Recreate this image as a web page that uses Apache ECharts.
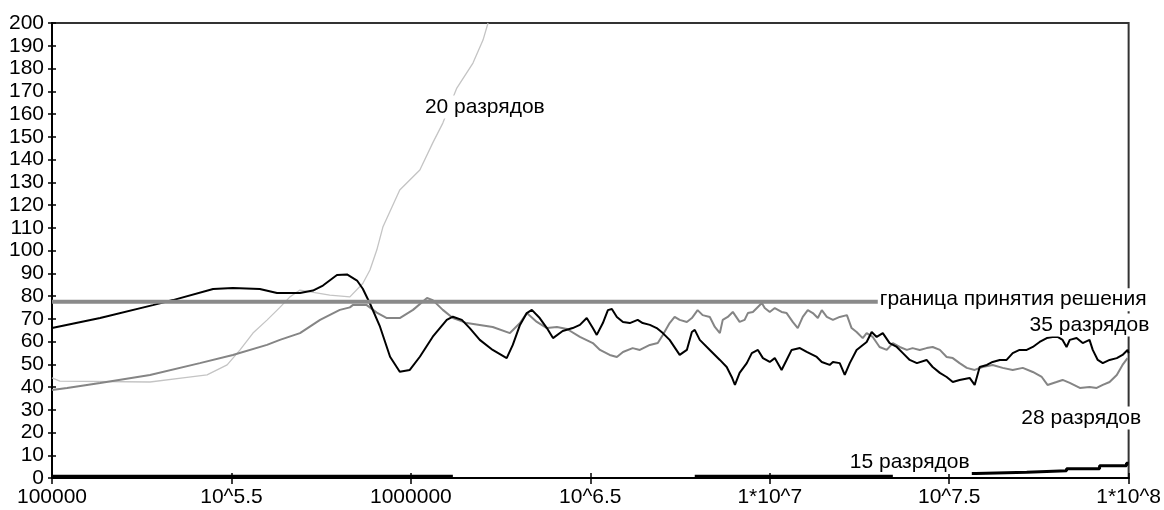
<!DOCTYPE html>
<html>
<head>
<meta charset="utf-8">
<script src="https://cdn.jsdelivr.net/npm/echarts@6/dist/echarts.min.js"></script>
<style>
html,body{margin:0;padding:0;background:#fff;}
#chart{width:1164px;height:510px;}
</style>
</head>
<body>
<div id="chart"></div>
<script>
// ---- data (x = log10 of N, y = value) ----
const xTickExps = [5, 5.5, 6, 6.5, 7, 7.5, 8];
const xTickLabels = ['100000', '10^5.5', '1000000', '10^6.5', '1*10^7', '10^7.5', '1*10^8'];

const seriesNames = ['20 разрядов', '35 разрядов', '28 разрядов', '15 разрядов', 'граница принятия решения'];

const thresholdValue = 77.5;
const thresholdRange = [5, 7.301];

const data20 = [[5.000,44],[5.022,42.6],[5.273,42.2],[5.365,44],[5.432,45.3],[5.488,49.7],[5.524,56.3],[5.560,63.7],[5.599,69.4],[5.635,75],[5.663,79.6],[5.691,82.6],[5.774,80.4],[5.830,79.6],[5.866,85.5],[5.886,91.4],[5.905,100.2],[5.922,110.3],[5.969,126.6],[6.025,135.4],[6.061,147.3],[6.089,156],[6.128,171.4],[6.173,182.4],[6.201,192.5],[6.215,200]];

const data35 = [[5.000,65.9],[5.134,70.3],[5.281,76],[5.337,78.2],[5.449,83.1],[5.504,83.5],[5.579,83.1],[5.627,81.3],[5.691,81.3],[5.727,82.4],[5.755,84.6],[5.794,89.2],[5.822,89.5],[5.850,86.8],[5.866,83.2],[5.886,76.7],[5.914,66.5],[5.942,53.3],[5.969,46.7],[5.997,47.5],[6.025,53.3],[6.061,62.1],[6.100,69.5],[6.117,70.9],[6.142,69.5],[6.164,65.9],[6.192,60.7],[6.228,56.3],[6.267,52.7],[6.284,58.5],[6.304,67.3],[6.323,72.5],[6.337,73.9],[6.359,70.3],[6.379,65.9],[6.396,61.5],[6.423,64.6],[6.451,65.9],[6.471,67.3],[6.490,70.3],[6.507,65.9],[6.518,62.9],[6.535,68.1],[6.549,73.8],[6.560,74.3],[6.574,70.8],[6.591,68.6],[6.610,68.1],[6.632,69.5],[6.646,68.1],[6.666,67.3],[6.685,65.9],[6.702,63.7],[6.721,60.7],[6.749,54.1],[6.769,56.3],[6.783,64.2],[6.791,65.1],[6.805,60.7],[6.833,56.3],[6.861,51.9],[6.880,48.8],[6.894,44.4],[6.903,40.9],[6.916,46.2],[6.936,50.5],[6.950,54.9],[6.967,56.3],[6.981,52.7],[7.000,51],[7.014,52.7],[7.033,47.5],[7.047,51.9],[7.061,56.3],[7.084,57.1],[7.103,55.4],[7.131,53.2],[7.145,51],[7.167,49.7],[7.176,51],[7.195,50.5],[7.209,45.3],[7.223,50.5],[7.242,56.3],[7.270,59.8],[7.284,64.2],[7.298,62],[7.315,63.7],[7.334,59.3],[7.354,57.6],[7.371,54.9],[7.390,51.9],[7.410,50.5],[7.437,51.9],[7.454,48.8],[7.474,46.2],[7.493,44.4],[7.510,42.2],[7.529,43.1],[7.557,44],[7.571,40.9],[7.585,48.8],[7.605,49.7],[7.621,51],[7.641,51.9],[7.660,51.9],[7.677,54.9],[7.696,56.3],[7.716,56.3],[7.733,57.6],[7.752,59.8],[7.772,61.5],[7.788,62],[7.802,62],[7.816,60.7],[7.827,57.6],[7.836,60.7],[7.855,61.5],[7.872,59.3],[7.891,60.7],[7.900,56.3],[7.914,51.9],[7.928,50.5],[7.947,51.9],[7.967,52.7],[7.983,54.1],[7.997,56.3],[8.000,54.9]];

const data28 = [[5.000,38.7],[5.042,39.6],[5.134,41.8],[5.273,45.3],[5.412,50.5],[5.504,54.1],[5.599,58.5],[5.635,60.7],[5.691,63.7],[5.747,69.5],[5.802,73.9],[5.830,75],[5.838,76],[5.877,76],[5.905,72.7],[5.933,70.3],[5.969,70.3],[6.006,73.9],[6.045,79.1],[6.061,78.2],[6.089,73.9],[6.117,70.3],[6.156,68.1],[6.192,67.3],[6.228,66.4],[6.276,63.7],[6.304,68.1],[6.323,72.5],[6.351,68.6],[6.379,65.9],[6.407,66.4],[6.435,65.5],[6.471,62],[6.507,59.3],[6.527,56.3],[6.554,54.1],[6.574,53.2],[6.591,55.4],[6.618,57.1],[6.638,56.3],[6.666,58.5],[6.688,59.3],[6.702,62.9],[6.721,68.1],[6.735,70.8],[6.749,69.5],[6.769,68.6],[6.783,70.3],[6.799,73.8],[6.813,71.6],[6.833,70.8],[6.847,66.4],[6.861,63.7],[6.869,69.5],[6.883,70.8],[6.897,73],[6.916,68.6],[6.930,69.5],[6.939,72.5],[6.953,73],[6.967,75.2],[6.978,76.9],[6.986,74.7],[7.000,73],[7.014,74.7],[7.033,73],[7.047,72.5],[7.064,68.6],[7.078,65.9],[7.092,70.8],[7.106,73.8],[7.120,72.5],[7.134,70.3],[7.145,73.8],[7.159,70.8],[7.176,69.5],[7.195,70.8],[7.215,71.6],[7.228,65.9],[7.242,64.2],[7.259,61.5],[7.270,63.7],[7.287,62],[7.306,57.6],[7.326,56.3],[7.343,59.3],[7.362,57.6],[7.382,56.3],[7.398,57.1],[7.418,56.3],[7.437,57.1],[7.454,57.6],[7.474,56.3],[7.493,53.2],[7.510,52.7],[7.529,50.5],[7.549,48.4],[7.571,47.5],[7.593,48.8],[7.621,49.7],[7.649,48.4],[7.677,47.5],[7.705,48.4],[7.733,46.6],[7.758,44.4],[7.774,40.9],[7.799,42.2],[7.816,43.1],[7.836,41.8],[7.864,39.6],[7.891,40],[7.911,39.6],[7.928,40.9],[7.947,42.2],[7.967,45.3],[7.983,49.7],[7.997,52.7]];

// '-' marks a gap (the curve lies on the axis there)
const data15 = [[5.000,0.8],[6.117,0.8],[6.118,'-'],[6.791,0.8],[7.343,0.8],[7.344,'-'],[7.563,2.0],[7.574,2.5],[7.716,3.2],[7.827,4.1],[7.919,5.4],[7.994,6.5],[8.000,6.5]];

// ---- chart ----
const FONT = "'Liberation Sans', Arial, sans-serif";
const FS = 21;

function note(coord, text, position) {
  return {
    coord: coord,
    label: {
      show: true,
      formatter: text,
      position: position || 'inside',
      distance: 1,
      color: '#000',
      fontFamily: FONT,
      fontSize: FS,
      backgroundColor: '#fff',
      padding: [1, 1, 1, 1]
    }
  };
}
function marker(items) {
  return { symbol: 'circle', symbolSize: 0, silent: true, animation: false, data: items };
}

const chart = echarts.init(document.getElementById('chart'), null, { renderer: 'canvas' });
chart.setOption({
  animation: false,
  backgroundColor: '#fff',
  grid: { left: 52, right: 34, top: 23, bottom: 32, show: true, borderColor: '#333', borderWidth: 2, backgroundColor: 'transparent' },
  xAxis: [{
    type: 'value', min: 5, max: 8, interval: 0.5, position: 'bottom',
    axisLine: { show: true, onZero: false, lineStyle: { color: '#000', width: 2 } },
    axisTick: { show: true, length: 6, lineStyle: { color: '#000', width: 1.5 } },
    splitLine: { show: false },
    axisLabel: {
      margin: 9, color: '#000', fontFamily: FONT, fontSize: FS, lineHeight: 20, hideOverlap: false,
      showMinLabel: true, showMaxLabel: true,
      formatter: function (v) { const i = xTickExps.indexOf(Math.round(v * 2) / 2); return i >= 0 ? xTickLabels[i] : ''; }
    }
  }, {
    type: 'value', min: 5, max: 8, interval: 0.5, position: 'bottom', offset: 0,
    axisLine: { show: false }, axisLabel: { show: false }, splitLine: { show: false },
    axisTick: { show: true, inside: true, length: 5, lineStyle: { color: '#000', width: 1.5 } }
  }],
  yAxis: [{
    type: 'value', min: 0, max: 200, interval: 10, position: 'left',
    axisLine: { show: true, onZero: false, lineStyle: { color: '#000', width: 2 } },
    axisTick: { show: true, length: 4, lineStyle: { color: '#000', width: 1.5 } },
    splitLine: { show: false },
    axisLabel: { margin: 8, color: '#000', fontFamily: FONT, fontSize: FS, lineHeight: 18, hideOverlap: false, showMinLabel: true, showMaxLabel: true }
  }, {
    type: 'value', min: 0, max: 200, interval: 10, position: 'left', offset: 0,
    axisLine: { show: false }, axisLabel: { show: false }, splitLine: { show: false },
    axisTick: { show: true, inside: true, length: 4, lineStyle: { color: '#000', width: 1.5 } }
  }],
  series: [
    {
      name: seriesNames[0], type: 'line', data: data20, symbol: 'none', z: 2,
      lineStyle: { color: '#c4c4c4', width: 1.3 },
      markPoint: marker([note([6.206, 163.1], seriesNames[0])])
    },
    {
      name: seriesNames[2], type: 'line', data: data28, symbol: 'none', z: 3,
      lineStyle: { color: '#858585', width: 2 },
      markPoint: marker([note([7.868, 26.4], seriesNames[2])])
    },
    {
      name: seriesNames[1], type: 'line', data: data35, symbol: 'none', z: 4,
      lineStyle: { color: '#000', width: 2 },
      markPoint: marker([note([7.891, 67.2], seriesNames[1])])
    },
    {
      name: seriesNames[4], type: 'line', symbol: 'none', z: 5,
      data: [[thresholdRange[0], thresholdValue], [thresholdRange[1], thresholdValue]],
      lineStyle: { color: '#8a8a8a', width: 4 },
      markPoint: marker([note([thresholdRange[1], 78.4], seriesNames[4], 'right')])
    },
    {
      name: seriesNames[3], type: 'line', data: data15, symbol: 'none', step: 'end', z: 6,
      connectNulls: false,
      lineStyle: { color: '#000', width: 3 },
      markPoint: marker([note([7.390, 6.8], seriesNames[3])])
    }
  ]
});
</script>
</body>
</html>
